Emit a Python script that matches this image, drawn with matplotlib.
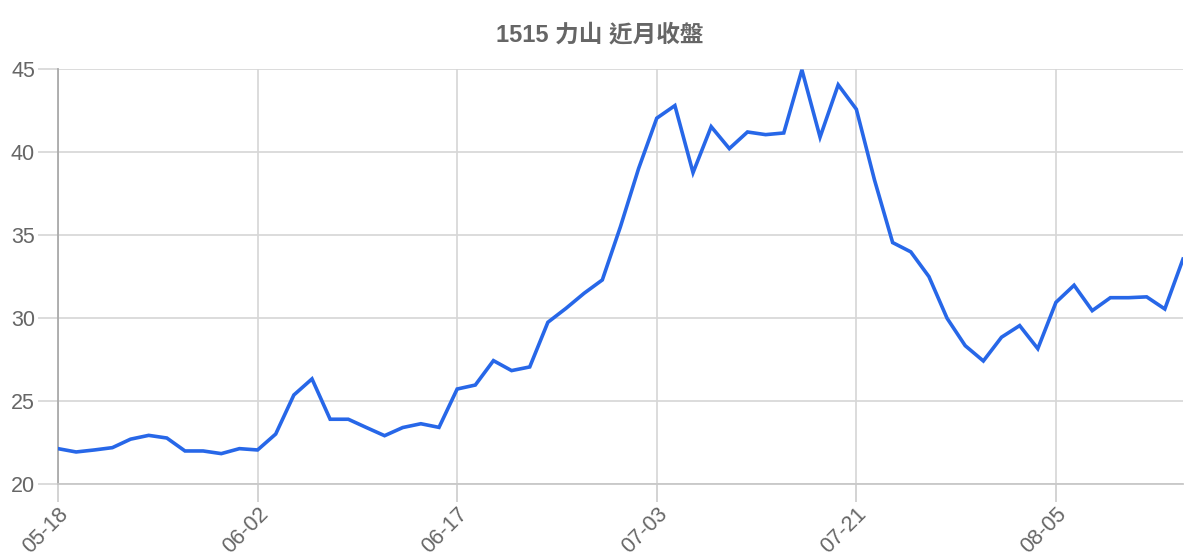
import matplotlib
matplotlib.use('Agg')
import matplotlib.pyplot as plt

# closing prices
dates = ['05-18', '05-19', '05-20', '05-21', '05-22', '05-25', '05-26', '05-27', '05-28', '05-29',
         '06-01', '06-02', '06-03', '06-04', '06-05', '06-08', '06-09', '06-10', '06-11', '06-12',
         '06-15', '06-16', '06-17', '06-18', '06-19', '06-20', '06-22', '06-23', '06-24', '06-29',
         '06-30', '07-01', '07-02', '07-03', '07-06', '07-07', '07-08', '07-09', '07-10', '07-13',
         '07-14', '07-15', '07-16', '07-20', '07-21', '07-22', '07-23', '07-24', '07-27', '07-28',
         '07-29', '07-30', '07-31', '08-03', '08-04', '08-05', '08-06', '08-07', '08-10', '08-11',
         '08-12', '08-13', '08-14']
close = [22.13, 21.93, 22.05, 22.19, 22.70, 22.93, 22.77, 21.99, 21.99, 21.83,
         22.13, 22.05, 23.01, 25.36, 26.33, 23.90, 23.90, 23.40, 22.91, 23.40,
         23.63, 23.41, 25.72, 25.96, 27.43, 26.83, 27.05, 29.74, 30.58, 31.49,
         32.29, 35.50, 39.00, 42.03, 42.79, 38.75, 41.52, 40.20, 41.20, 41.04,
         41.14, 44.94, 40.89, 44.04, 42.57, 38.31, 34.54, 33.98, 32.49, 29.98,
         28.33, 27.41, 28.84, 29.54, 28.15, 30.94, 31.97, 30.44, 31.22, 31.22,
         31.27, 30.54, 33.54]
tick_labels = ['05-18', '06-02', '06-17', '07-03', '07-21', '08-05']
yticks = [20, 25, 30, 35, 40, 45]

plt.rcParams['font.family'] = ['Liberation Sans', 'Noto Sans CJK TC', 'DejaVu Sans']

fig = plt.figure(figsize=(12, 5.6), dpi=100)
ax = fig.add_axes([0.0483, 0.1357, 0.9375, 0.7413])

x = list(range(len(dates)))
ax.plot(x, close, color='#2767e8', linewidth=2.6, solid_joinstyle='miter', zorder=3)

ax.set_xlim(0, len(dates) - 1)
ax.set_ylim(20, 45)

ax.set_xticks([dates.index(d) for d in tick_labels])
ax.set_xticklabels(tick_labels, rotation=45, ha='right', va='top', rotation_mode='anchor')
ax.set_yticks(yticks)

ax.grid(True, color='#d6d6d6', linewidth=1.2)
ax.set_axisbelow(True)

for s in ['top', 'right']:
    ax.spines[s].set_visible(False)
ax.spines['left'].set_color('#aaaaaa')
ax.spines['left'].set_linewidth(1.3)
ax.spines['bottom'].set_color('#c8c8c8')
ax.spines['bottom'].set_linewidth(1.3)

ax.tick_params(axis='y', length=14.5, width=1.2, color='#d6d6d6', pad=2,
               labelsize=15.5, labelcolor='#666666')
ax.tick_params(axis='x', length=13, width=1.2, color='#cccccc', pad=1,
               labelsize=15.5, labelcolor='#666666')

fig.text(0.5, 0.937, '1515 力山 近月收盤', ha='center', va='center',
         fontsize=17, fontweight='bold', color='#666666')

fig.savefig('out.png')
